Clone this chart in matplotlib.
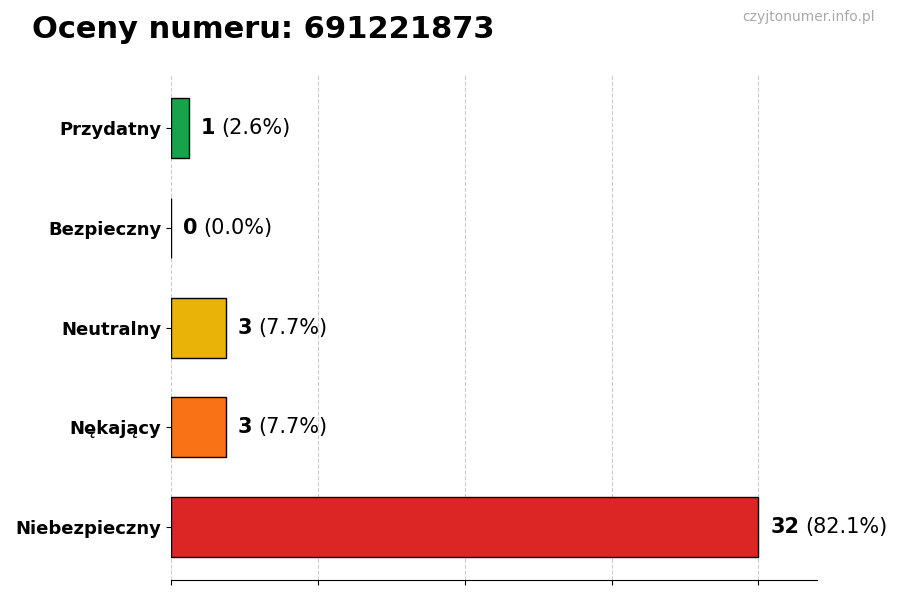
import matplotlib
matplotlib.use("Agg")
import matplotlib.pyplot as plt
from matplotlib.transforms import offset_copy

categories = ["Niebezpieczny", "Nękający", "Neutralny", "Bezpieczny", "Przydatny"]
values = [32, 3, 3, 0, 1]
colors = ["#dc2626", "#f97316", "#eab308", "#3b82f6", "#16a34a"]
title = "Oceny numeru: 691221873"
watermark = "czyjtonumer.info.pl"

total = sum(values)

fig = plt.figure(figsize=(9, 6), dpi=100)
ax = fig.add_axes([0.19, 0.033, 0.718, 0.842])

y = list(range(len(categories)))
ax.barh(y, values, height=0.6, color=colors, edgecolor="black", linewidth=1, zorder=3)
ax.set_yticks(y)
ax.set_yticklabels(categories, fontsize=13, fontweight="bold")
ax.set_xlim(0, max(values) * 1.1)
ax.set_xticks([0, 8, 16, 24, 32])
ax.set_xticklabels([])
ax.grid(axis="x", linestyle="--", color="#cccccc", linewidth=0.8, zorder=0)
for s in ["top", "right", "left"]:
    ax.spines[s].set_visible(False)

fig.canvas.draw()
renderer = fig.canvas.get_renderer()
off = max(values) * 0.02
for yi, v in zip(y, values):
    t1 = ax.text(v + off, yi, f"{v}", fontsize=15, fontweight="bold", va="center", ha="left")
    bb = t1.get_window_extent(renderer=renderer)
    tr = offset_copy(ax.transData, fig=fig, x=bb.width + 6, y=0, units="dots")
    ax.text(v + off, yi, f"({v / total * 100:.1f}%)", fontsize=15, va="center", ha="left", transform=tr)

fig.text(0.035, 0.95, title, fontsize=22, fontweight="bold", ha="left", va="center")
fig.text(0.972, 0.972, watermark, fontsize=10, color="#aaaaaa", ha="right", va="center")

fig.savefig("out.png", dpi=100)
